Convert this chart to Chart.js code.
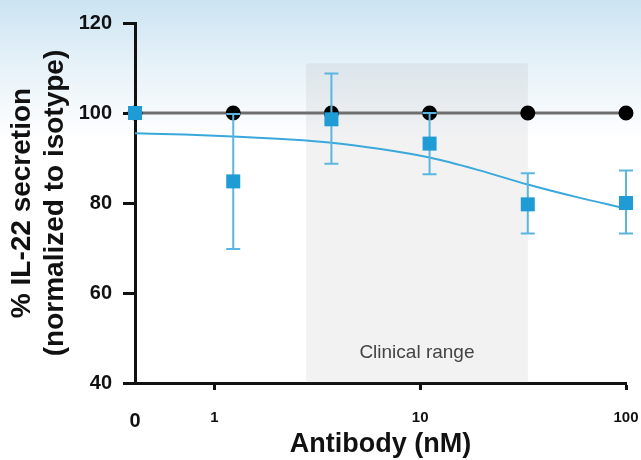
<!DOCTYPE html>
<html>
<head>
<meta charset="utf-8">
<script src="https://cdn.jsdelivr.net/npm/chart.js@4/dist/chart.umd.min.js"></script>
<style>
  html, body { margin: 0; padding: 0; background: #fff; }
  #wrap { width: 641px; height: 460px; }
</style>
</head>
<body>
<div id="wrap"><canvas id="c" width="641" height="460"></canvas></div>
<script>
// concentrations (3-fold dilutions, lowest is plotted as "0")
const doses = [0.4115, 1.235, 3.704, 11.11, 33.33, 100];
const isotype = [100, 100, 100, 100, 100, 100];
const antibody = [100, 84.8, 98.6, 93.2, 79.7, 80.0];
const errLow = [100, 69.8, 88.7, 86.4, 73.2, 73.2];
const errHigh = [100, 99.8, 108.8, 100, 86.6, 87.2];
// fitted curve
const fitX = [0.4115, 0.713, 1.235, 2.14, 3.704, 6.42, 11.11, 19.25, 33.33, 57.7, 100];
const fitY = [95.5, 95.2, 94.8, 94.2, 93.4, 92.0, 90.1, 87.3, 84.1, 81.3, 78.8];
const xTicks = [0.4115, 1, 10, 100];
const xTickLabels = ["0", "1", "10", "100"];
const yTicks = [40, 60, 80, 100, 120];
const clinicalRange = [2.79, 33.33, 111];

const bgPlugin = {
    id: "bg",
    beforeDraw(chart) {
        const ctx = chart.ctx;
        const g = ctx.createLinearGradient(0, 0, 0, 140);
        g.addColorStop(0, "#cbe4f2");
        g.addColorStop(0.45, "#e6f1f8");
        g.addColorStop(1, "#ffffff");
        ctx.save();
        ctx.fillStyle = g;
        ctx.fillRect(0, 0, chart.width, chart.height);
        ctx.restore();
    },
    beforeDatasetsDraw(chart) {
        // shaded clinical range
        const { ctx, scales: { x, y } } = chart;
        const x0 = x.getPixelForValue(clinicalRange[0]);
        const x1 = x.getPixelForValue(clinicalRange[1]);
        const yt = y.getPixelForValue(clinicalRange[2]);
        const yb = y.getPixelForValue(40);
        ctx.save();
        ctx.fillStyle = "rgba(120,120,120,0.095)";
        ctx.fillRect(x0, yt, x1 - x0, yb - yt);
        ctx.fillStyle = "#444";
        ctx.font = "19px Arial, 'Liberation Sans', sans-serif";
        ctx.textAlign = "center";
        ctx.textBaseline = "middle";
        ctx.fillText("Clinical range", (x0 + x1) / 2, 353);
        ctx.restore();
    }
};

const errPlugin = {
    id: "errbars",
    afterDatasetsDraw(chart) {
        const { ctx, scales: { x, y } } = chart;
        ctx.save();
        ctx.strokeStyle = "#5ab6e0";
        ctx.lineWidth = 2;
        doses.forEach((d, i) => {
            if (errLow[i] === errHigh[i]) return;
            const px = x.getPixelForValue(d);
            const lo = y.getPixelForValue(errLow[i]);
            const hi = y.getPixelForValue(errHigh[i]);
            ctx.beginPath();
            ctx.moveTo(px, lo); ctx.lineTo(px, hi);
            ctx.moveTo(px - 7, lo); ctx.lineTo(px + 7, lo);
            ctx.moveTo(px - 7, hi); ctx.lineTo(px + 7, hi);
            ctx.stroke();
        });
        ctx.restore();
        // squares on top of the bars
        chart.getDatasetMeta(2).data.forEach(pt => {
            ctx.save();
            ctx.fillStyle = "#1f9bd5";
            ctx.fillRect(pt.x - 7, pt.y - 7, 14, 14);
            ctx.restore();
        });
    }
};

const font = "Arial, 'Liberation Sans', sans-serif";

new Chart(document.getElementById("c"), {
    type: "scatter",
    data: {
        datasets: [
            {
                label: "Isotype",
                data: doses.map((d, i) => ({ x: d, y: isotype[i] })),
                showLine: true,
                borderColor: "#6e6e6e",
                borderWidth: 3,
                pointBackgroundColor: "#000",
                pointBorderColor: "#000",
                pointRadius: 6,
                clip: false,
                order: 3
            },
            {
                label: "Fit",
                data: fitX.map((d, i) => ({ x: d, y: fitY[i] })),
                showLine: true,
                borderColor: "#3aa8da",
                borderWidth: 2,
                pointRadius: 0,
                cubicInterpolationMode: "monotone",
                clip: false,
                order: 2
            },
            {
                label: "Antibody",
                data: doses.map((d, i) => ({ x: d, y: antibody[i] })),
                pointStyle: "rect",
                pointRadius: 0,
                backgroundColor: "#1f9bd5",
                clip: false,
                order: 1
            }
        ]
    },
    options: {
        responsive: false,
        animation: false,
        devicePixelRatio: 1,
        layout: { padding: { top: 22, right: 15, left: 0, bottom: 0 } },
        plugins: { legend: { display: false }, tooltip: { enabled: false } },
        scales: {
            x: {
                type: "logarithmic",
                min: 0.4115,
                max: 100,
                afterBuildTicks: s => { s.ticks = xTicks.map(v => ({ value: v })); },
                afterFit: s => { s.height = 77; s.paddingRight = 0; s.paddingLeft = 0; },
                grid: {
                    display: true,
                    drawOnChartArea: false,
                    drawTicks: true,
                    tickLength: 7,
                    tickWidth: ctx => ctx.index === 0 ? 0 : 3,
                    color: "#111"
                },
                border: { display: true, color: "#111", width: 3 },
                ticks: {
                    autoSkip: false,
                    maxRotation: 0,
                    color: "#111",
                    padding: 19,
                    callback: (v, i) => xTickLabels[i],
                    font: ctx => ctx.index === 0
                        ? { family: font, size: 20, weight: "bold" }
                        : { family: font, size: 15, weight: "bold" }
                },
                title: {
                    display: true,
                    text: "Antibody (nM)",
                    color: "#111",
                    font: { family: font, size: 27, weight: "bold", lineHeight: 1 },
                    padding: { top: 0, bottom: 2 }
                }
            },
            y: {
                min: 40,
                max: 120,
                afterBuildTicks: s => { s.ticks = yTicks.map(v => ({ value: v })); },
                afterFit: s => { s.width = 135; },
                grid: {
                    display: true,
                    drawOnChartArea: false,
                    drawTicks: true,
                    tickLength: 12,
                    tickWidth: 3,
                    color: "#111"
                },
                border: { display: true, color: "#111", width: 3 },
                ticks: {
                    color: "#111",
                    padding: 11,
                    font: { family: font, size: 20, weight: "bold" }
                },
                title: {
                    display: true,
                    text: ["% IL-22 secretion", "(normalized to isotype)"],
                    color: "#111",
                    font: { family: font, size: 28, weight: "bold", lineHeight: 1.18 },
                    padding: { top: 6, bottom: 4 }
                }
            }
        }
    },
    plugins: [bgPlugin, errPlugin]
});
</script>
</body>
</html>
